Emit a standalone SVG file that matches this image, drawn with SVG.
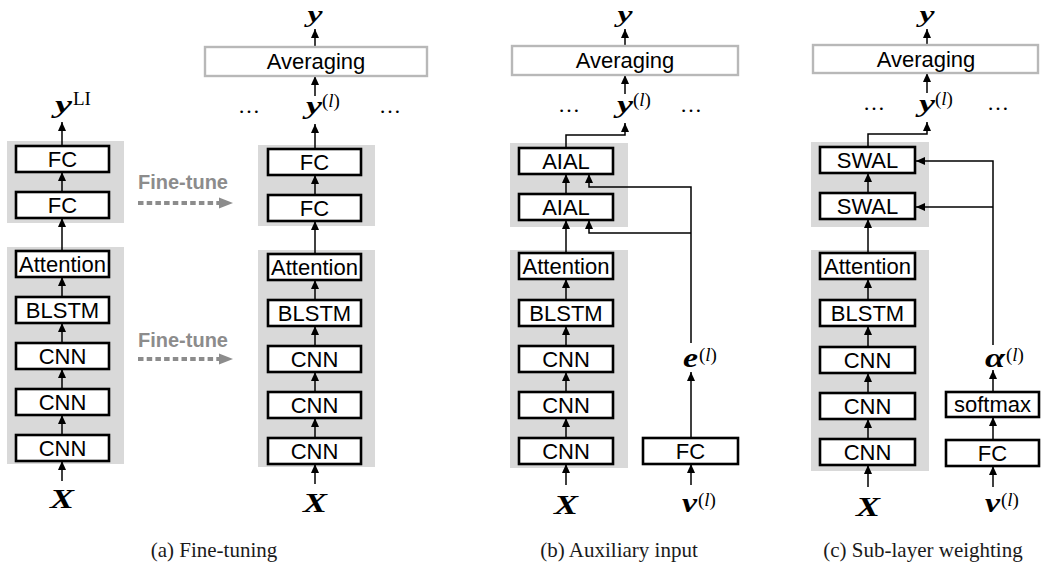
<svg xmlns="http://www.w3.org/2000/svg" width="1041" height="569" viewBox="0 0 1041 569">
  <defs>
    <marker id="ah" viewBox="0 0 9 8" refX="9" refY="4" markerWidth="9" markerHeight="8" markerUnits="userSpaceOnUse" orient="auto">
      <path d="M0,0 L9,4 L0,8 z" fill="#000"/>
    </marker>
  </defs>
  <style>
    .panel { fill: #d9d9d9; stroke: none; }
    .box { fill: #fff; stroke: #000; stroke-width: 2.6; }
    .avg { fill: #fff; stroke: #b8b8b8; stroke-width: 2.4; }
    .lbl { font-family: "Liberation Sans", Arial, sans-serif; font-size: 22px; text-anchor: middle; fill: #000; }
    .math { font-family: "Liberation Serif", "Times New Roman", serif; font-weight: bold; font-style: italic; fill: #000; }
    .sup { font-family: "Liberation Serif", "Times New Roman", serif; font-size: 19px; fill: #000; }
    .dots { font-family: "Liberation Serif", "Times New Roman", serif; font-size: 22px; fill: #000; }
    .cap { font-family: "Liberation Serif", "Times New Roman", serif; font-size: 21px; text-anchor: middle; fill: #1a1a1a; }
    .ft { font-family: "Liberation Sans", Arial, sans-serif; font-size: 20px; font-weight: bold; fill: #8c8c8c; }
    .ftline { stroke: #8c8c8c; stroke-width: 4; stroke-dasharray: 5.5 3.2; fill: none; }
    .conn { stroke: #000; stroke-width: 1.5; fill: none; marker-end: url(#ah); }
  </style>

  <!-- background panels -->
  <g id="panels">
    <rect class="panel" x="7" y="141" width="117" height="82"/>
    <rect class="panel" x="7" y="247" width="117" height="217"/>
    <rect class="panel" x="258" y="145" width="117" height="81"/>
    <rect class="panel" x="258" y="250" width="117" height="217"/>
    <rect class="panel" x="510" y="143" width="118" height="84"/>
    <rect class="panel" x="510" y="250" width="118" height="218"/>
    <rect class="panel" x="811" y="142" width="118" height="85"/>
    <rect class="panel" x="811" y="250" width="118" height="221"/>
  </g>

  <!-- connectors -->
  <g id="connectors">
    <!-- (a) pretrained network -->
    <line class="conn" x1="62" y1="481" x2="62" y2="461"/>
    <line class="conn" x1="62" y1="435" x2="62" y2="415"/>
    <line class="conn" x1="62" y1="389" x2="62" y2="369"/>
    <line class="conn" x1="62" y1="343" x2="62" y2="323"/>
    <line class="conn" x1="62" y1="297" x2="62" y2="277"/>
    <line class="conn" x1="62" y1="251" x2="62" y2="218"/>
    <line class="conn" x1="62" y1="192" x2="62" y2="172"/>
    <line class="conn" x1="62" y1="146" x2="62" y2="122"/>
    <!-- (a) fine-tuned network -->
    <line class="conn" x1="315" y1="484" x2="315" y2="464"/>
    <line class="conn" x1="315" y1="438" x2="315" y2="418"/>
    <line class="conn" x1="315" y1="392" x2="315" y2="372"/>
    <line class="conn" x1="315" y1="346" x2="315" y2="326"/>
    <line class="conn" x1="315" y1="300" x2="315" y2="280"/>
    <line class="conn" x1="315" y1="254" x2="315" y2="221"/>
    <line class="conn" x1="315" y1="195" x2="315" y2="175"/>
    <line class="conn" x1="315" y1="149" x2="315" y2="124"/>
    <line class="conn" x1="315" y1="96" x2="315" y2="76"/>
    <line class="conn" x1="315" y1="47" x2="315" y2="29"/>
    <!-- fine-tune transfer arrows -->
    <line class="ftline" x1="138" y1="203" x2="219" y2="203"/>
    <path d="M219,197.5 L233,203 L219,208.5 z" fill="#8c8c8c"/>
    <line class="ftline" x1="138" y1="359" x2="219" y2="359"/>
    <path d="M219,353.5 L233,359 L219,364.5 z" fill="#8c8c8c"/>

    <!-- (b) auxiliary input -->
    <line class="conn" x1="566" y1="485" x2="566" y2="464"/>
    <line class="conn" x1="566" y1="438" x2="566" y2="418"/>
    <line class="conn" x1="566" y1="392" x2="566" y2="372"/>
    <line class="conn" x1="566" y1="346" x2="566" y2="326"/>
    <line class="conn" x1="566" y1="300" x2="566" y2="279"/>
    <line class="conn" x1="566" y1="253" x2="566" y2="220"/>
    <line class="conn" x1="566" y1="194" x2="566" y2="174"/>
    <path class="conn" d="M566,148 V135 H625 V123"/>
    <line class="conn" x1="625" y1="94" x2="625" y2="75"/>
    <line class="conn" x1="625" y1="46" x2="625" y2="29"/>
    <path class="conn" d="M691,343 V187 H589 V174"/>
    <path class="conn" d="M691,233 H589 V220"/>
    <line class="conn" x1="691" y1="438" x2="691" y2="372"/>
    <line class="conn" x1="691" y1="485" x2="691" y2="464"/>

    <!-- (c) sub-layer weighting -->
    <line class="conn" x1="868" y1="487" x2="868" y2="465"/>
    <line class="conn" x1="868" y1="439" x2="868" y2="419"/>
    <line class="conn" x1="868" y1="393" x2="868" y2="373"/>
    <line class="conn" x1="868" y1="347" x2="868" y2="326"/>
    <line class="conn" x1="868" y1="300" x2="868" y2="279"/>
    <line class="conn" x1="868" y1="253" x2="868" y2="219"/>
    <line class="conn" x1="868" y1="193" x2="868" y2="173"/>
    <path class="conn" d="M868,147 V134 H927 V122"/>
    <line class="conn" x1="927" y1="93" x2="927" y2="73"/>
    <line class="conn" x1="927" y1="45" x2="927" y2="29"/>
    <path class="conn" d="M993,345 V161 H916"/>
    <path class="conn" d="M993,207 H916"/>
    <line class="conn" x1="993" y1="392" x2="993" y2="370"/>
    <line class="conn" x1="993" y1="440" x2="993" y2="417"/>
    <line class="conn" x1="993" y1="487" x2="993" y2="466"/>
  </g>

  <!-- (a) pretrained network nodes -->
  <g id="a-fc1"><rect class="box" x="16" y="146" width="93" height="26"/><text class="lbl" x="62.5" y="166.5">FC</text></g>
  <g id="a-fc2"><rect class="box" x="16" y="192" width="93" height="26"/><text class="lbl" x="62.5" y="212.5">FC</text></g>
  <g id="a-att"><rect class="box" x="16" y="251" width="93" height="26"/><text class="lbl" x="62.5" y="271.5">Attention</text></g>
  <g id="a-blstm"><rect class="box" x="16" y="297" width="93" height="26"/><text class="lbl" x="62.5" y="317.5">BLSTM</text></g>
  <g id="a-cnn1"><rect class="box" x="16" y="343" width="93" height="26"/><text class="lbl" x="62.5" y="363.5">CNN</text></g>
  <g id="a-cnn2"><rect class="box" x="16" y="389" width="93" height="26"/><text class="lbl" x="62.5" y="409.5">CNN</text></g>
  <g id="a-cnn3"><rect class="box" x="16" y="435" width="93" height="26"/><text class="lbl" x="62.5" y="455.5">CNN</text></g>
  <g id="a-x"><text class="math" x="62" y="508" font-size="27" text-anchor="middle" textLength="24" lengthAdjust="spacingAndGlyphs">X</text></g>
  <g id="a-yli"><text class="math" x="55" y="113" font-size="26" textLength="17" lengthAdjust="spacingAndGlyphs">y</text><text class="sup" x="73" y="105" font-size="18">LI</text></g>

  <g id="finetune-labels">
    <text class="ft" x="138" y="189">Fine-tune</text>
    <text class="ft" x="138" y="347">Fine-tune</text>
  </g>

  <!-- (a) fine-tuned network nodes -->
  <g id="a2-avg"><rect class="avg" x="205" y="47" width="222" height="29"/><text class="lbl" x="316" y="69">Averaging</text></g>
  <g id="a2-y"><text class="math" x="315" y="22" font-size="24" text-anchor="middle" textLength="15" lengthAdjust="spacingAndGlyphs">y</text></g>
  <g id="a2-yl"><text class="math" x="306" y="114" font-size="26" textLength="16" lengthAdjust="spacingAndGlyphs">y</text><text class="sup" x="322" y="107">(<tspan font-style="italic">l</tspan>)</text></g>
  <g id="a2-dots"><text class="dots" x="238" y="113">…</text><text class="dots" x="379" y="113">…</text></g>
  <g id="a2-fc1"><rect class="box" x="268" y="149" width="93" height="26"/><text class="lbl" x="314.5" y="169.5">FC</text></g>
  <g id="a2-fc2"><rect class="box" x="268" y="195" width="93" height="26"/><text class="lbl" x="314.5" y="215.5">FC</text></g>
  <g id="a2-att"><rect class="box" x="268" y="254" width="93" height="26"/><text class="lbl" x="314.5" y="274.5">Attention</text></g>
  <g id="a2-blstm"><rect class="box" x="268" y="300" width="93" height="26"/><text class="lbl" x="314.5" y="320.5">BLSTM</text></g>
  <g id="a2-cnn1"><rect class="box" x="268" y="346" width="93" height="26"/><text class="lbl" x="314.5" y="366.5">CNN</text></g>
  <g id="a2-cnn2"><rect class="box" x="268" y="392" width="93" height="26"/><text class="lbl" x="314.5" y="412.5">CNN</text></g>
  <g id="a2-cnn3"><rect class="box" x="268" y="438" width="93" height="26"/><text class="lbl" x="314.5" y="458.5">CNN</text></g>
  <g id="a2-x"><text class="math" x="315" y="512" font-size="27" text-anchor="middle" textLength="24" lengthAdjust="spacingAndGlyphs">X</text></g>

  <!-- (b) auxiliary input nodes -->
  <g id="b-avg"><rect class="avg" x="512" y="46" width="226" height="29"/><text class="lbl" x="625" y="68">Averaging</text></g>
  <g id="b-y"><text class="math" x="625" y="22" font-size="24" text-anchor="middle" textLength="15" lengthAdjust="spacingAndGlyphs">y</text></g>
  <g id="b-yl"><text class="math" x="617" y="113" font-size="26" textLength="16" lengthAdjust="spacingAndGlyphs">y</text><text class="sup" x="633" y="106">(<tspan font-style="italic">l</tspan>)</text></g>
  <g id="b-dots"><text class="dots" x="558" y="112">…</text><text class="dots" x="680" y="112">…</text></g>
  <g id="b-aial1"><rect class="box" x="519" y="148" width="94" height="26"/><text class="lbl" x="566" y="168.5">AIAL</text></g>
  <g id="b-aial2"><rect class="box" x="519" y="194" width="94" height="26"/><text class="lbl" x="566" y="214.5">AIAL</text></g>
  <g id="b-att"><rect class="box" x="519" y="253" width="94" height="26"/><text class="lbl" x="566" y="273.5">Attention</text></g>
  <g id="b-blstm"><rect class="box" x="519" y="300" width="94" height="26"/><text class="lbl" x="566" y="320.5">BLSTM</text></g>
  <g id="b-cnn1"><rect class="box" x="519" y="346" width="94" height="26"/><text class="lbl" x="566" y="366.5">CNN</text></g>
  <g id="b-cnn2"><rect class="box" x="519" y="392" width="94" height="26"/><text class="lbl" x="566" y="412.5">CNN</text></g>
  <g id="b-cnn3"><rect class="box" x="519" y="438" width="94" height="26"/><text class="lbl" x="566" y="458.5">CNN</text></g>
  <g id="b-x"><text class="math" x="566" y="514" font-size="27" text-anchor="middle" textLength="24" lengthAdjust="spacingAndGlyphs">X</text></g>
  <g id="b-fc"><rect class="box" x="643" y="438" width="95" height="26"/><text class="lbl" x="690.5" y="458.5">FC</text></g>
  <g id="b-e"><text class="math" x="683" y="367" font-size="27" textLength="15" lengthAdjust="spacingAndGlyphs">e</text><text class="sup" x="699" y="361">(<tspan font-style="italic">l</tspan>)</text></g>
  <g id="b-v"><text class="math" x="682" y="512" font-size="27" textLength="15" lengthAdjust="spacingAndGlyphs">v</text><text class="sup" x="698" y="506">(<tspan font-style="italic">l</tspan>)</text></g>

  <!-- (c) sub-layer weighting nodes -->
  <g id="c-avg"><rect class="avg" x="813" y="45" width="225" height="28"/><text class="lbl" x="926" y="67">Averaging</text></g>
  <g id="c-y"><text class="math" x="927" y="22" font-size="24" text-anchor="middle" textLength="15" lengthAdjust="spacingAndGlyphs">y</text></g>
  <g id="c-yl"><text class="math" x="919" y="112" font-size="26" textLength="16" lengthAdjust="spacingAndGlyphs">y</text><text class="sup" x="935" y="105">(<tspan font-style="italic">l</tspan>)</text></g>
  <g id="c-dots"><text class="dots" x="863" y="110">…</text><text class="dots" x="987" y="110">…</text></g>
  <g id="c-swal1"><rect class="box" x="820" y="147" width="95" height="26"/><text class="lbl" x="867.5" y="167.5">SWAL</text></g>
  <g id="c-swal2"><rect class="box" x="820" y="193" width="95" height="26"/><text class="lbl" x="867.5" y="213.5">SWAL</text></g>
  <g id="c-att"><rect class="box" x="820" y="253" width="95" height="26"/><text class="lbl" x="867.5" y="273.5">Attention</text></g>
  <g id="c-blstm"><rect class="box" x="820" y="300" width="95" height="26"/><text class="lbl" x="867.5" y="320.5">BLSTM</text></g>
  <g id="c-cnn1"><rect class="box" x="820" y="347" width="95" height="26"/><text class="lbl" x="867.5" y="367.5">CNN</text></g>
  <g id="c-cnn2"><rect class="box" x="820" y="393" width="95" height="26"/><text class="lbl" x="867.5" y="413.5">CNN</text></g>
  <g id="c-cnn3"><rect class="box" x="820" y="439" width="95" height="26"/><text class="lbl" x="867.5" y="459.5">CNN</text></g>
  <g id="c-x"><text class="math" x="868" y="516" font-size="27" text-anchor="middle" textLength="24" lengthAdjust="spacingAndGlyphs">X</text></g>
  <g id="c-softmax"><rect class="box" x="946" y="392" width="93" height="25"/><text class="lbl" x="992.5" y="412">softmax</text></g>
  <g id="c-fc"><rect class="box" x="946" y="440" width="93" height="26"/><text class="lbl" x="992.5" y="460.5">FC</text></g>
  <g id="c-alpha"><text class="math" x="985" y="367" font-size="27" textLength="20" lengthAdjust="spacingAndGlyphs">α</text><text class="sup" x="1006" y="361">(<tspan font-style="italic">l</tspan>)</text></g>
  <g id="c-v"><text class="math" x="985" y="512" font-size="27" textLength="15" lengthAdjust="spacingAndGlyphs">v</text><text class="sup" x="1001" y="506">(<tspan font-style="italic">l</tspan>)</text></g>

  <!-- sub-figure captions -->
  <g id="captions">
    <text class="cap" x="214" y="557">(a) Fine-tuning</text>
    <text class="cap" x="619" y="557">(b) Auxiliary input</text>
    <text class="cap" x="923" y="557">(c) Sub-layer weighting</text>
  </g>
</svg>
